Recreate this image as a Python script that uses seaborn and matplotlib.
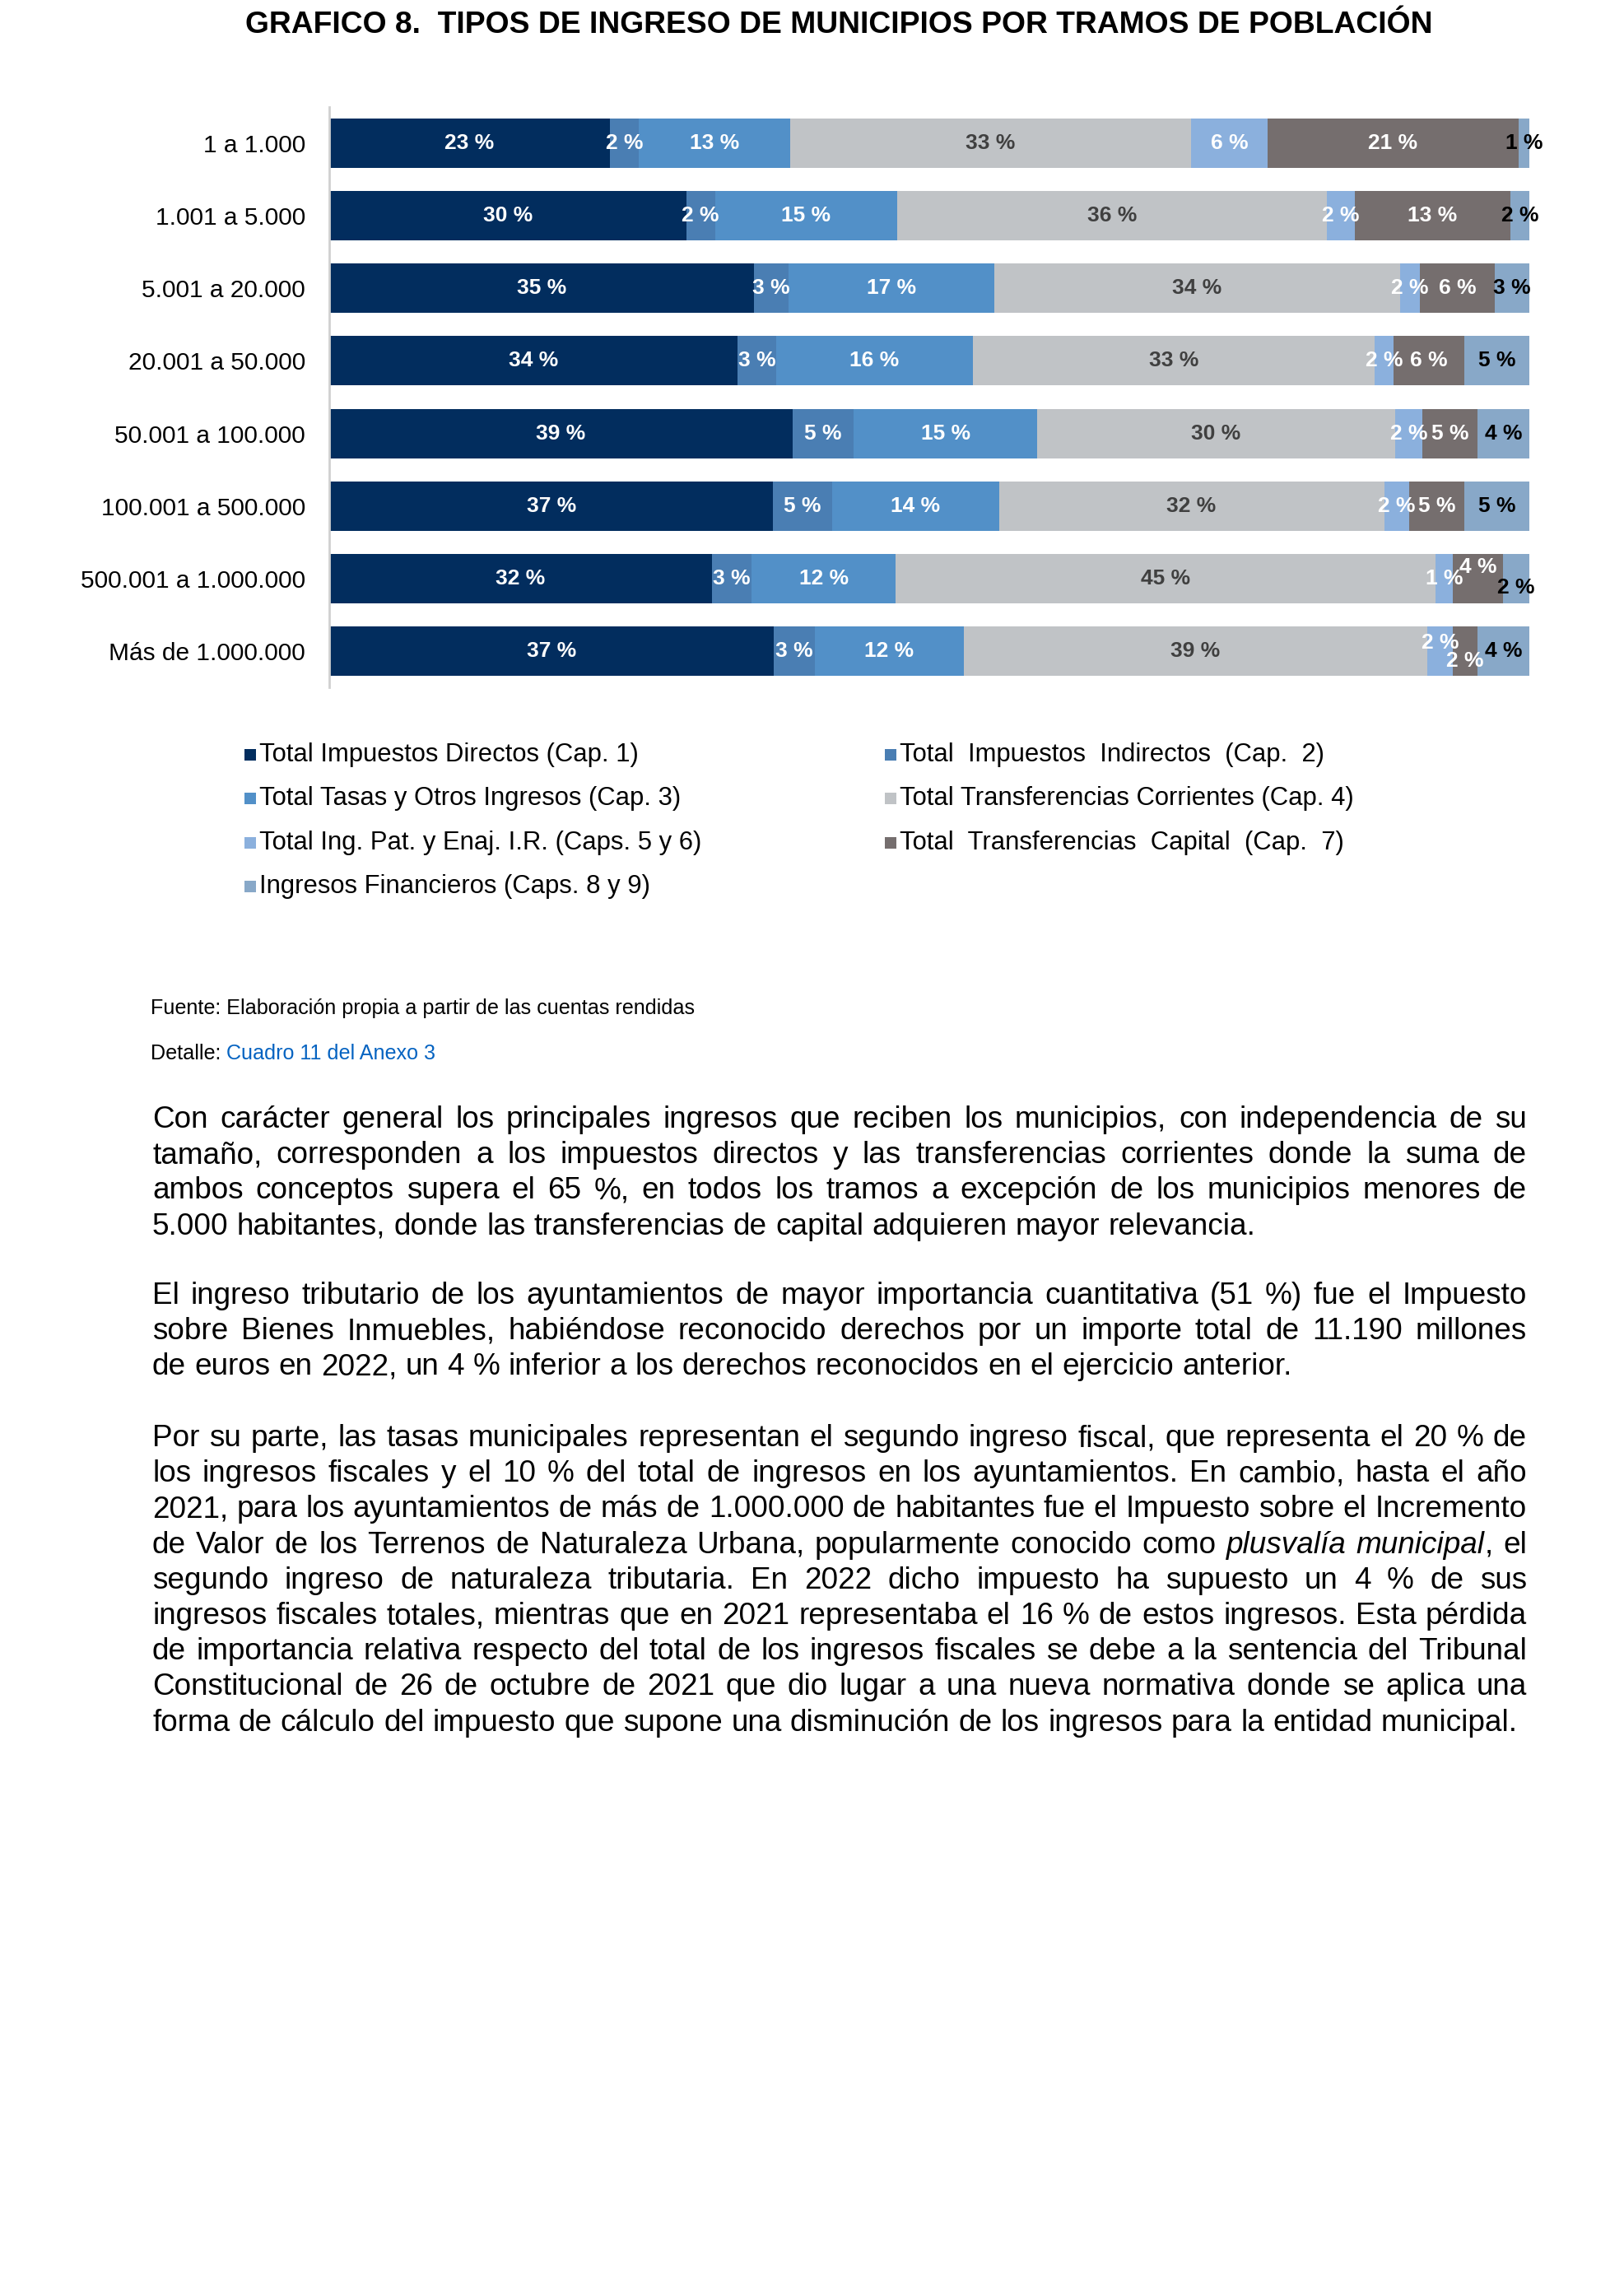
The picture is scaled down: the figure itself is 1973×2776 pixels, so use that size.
import numpy as np
import pandas as pd
import matplotlib
matplotlib.use("Agg")
import matplotlib.pyplot as plt
from matplotlib import font_manager
from matplotlib.patches import Rectangle
import seaborn as sns

# datos del grafico (porcentajes)
categorias = ["1 a 1.000", "1.001 a 5.000", "5.001 a 20.000", "20.001 a 50.000",
              "50.001 a 100.000", "100.001 a 500.000", "500.001 a 1.000.000",
              "Más de 1.000.000"]
directos = [23.4, 29.8, 35.4, 34.0, 38.6, 37.0, 31.9, 37.0]
indirectos = [2.4, 2.4, 2.9, 3.2, 5.1, 4.9, 3.3, 3.4]
tasas = [12.6, 15.2, 17.1, 16.4, 15.3, 13.9, 12.0, 12.4]
corrientes = [33.4, 35.9, 33.8, 33.4, 29.8, 32.1, 45.0, 38.6]
patrimoniales = [6.4, 2.3, 1.7, 1.6, 2.3, 2.1, 1.4, 2.1]
capital = [20.9, 13.0, 6.2, 5.9, 4.6, 4.6, 4.2, 2.1]
financieros = [0.9, 1.6, 2.9, 5.4, 4.3, 5.4, 2.2, 4.3]

series = ["Total Impuestos Directos (Cap. 1)",
          "Total  Impuestos  Indirectos  (Cap.  2)",
          "Total Tasas y Otros Ingresos (Cap. 3)",
          "Total Transferencias Corrientes (Cap. 4)",
          "Total Ing. Pat. y Enaj. I.R. (Caps. 5 y 6)",
          "Total  Transferencias  Capital  (Cap.  7)",
          "Ingresos Financieros (Caps. 8 y 9)"]

colores = ["#022D5E", "#4A7EB3", "#5290C8", "#C0C3C6", "#8BB0DD", "#756E6E", "#88A8C8"]
color_etiqueta = ["white", "white", "white", "#404040", "white", "white", "black"]

parrafos = [
    ["Con carácter general los principales ingresos que reciben los municipios, con independencia de su",
     "tamaño, corresponden a los impuestos directos y las transferencias corrientes donde la suma de",
     "ambos conceptos supera el 65 %, en todos los tramos a excepción de los municipios menores de",
     "5.000 habitantes, donde las transferencias de capital adquieren mayor relevancia."],
    ["El ingreso tributario de los ayuntamientos de mayor importancia cuantitativa (51 %) fue el Impuesto",
     "sobre Bienes Inmuebles, habiéndose reconocido derechos por un importe total de 11.190 millones",
     "de euros en 2022, un 4 % inferior a los derechos reconocidos en el ejercicio anterior."],
    ["Por su parte, las tasas municipales representan el segundo ingreso fiscal, que representa el 20 % de",
     "los ingresos fiscales y el 10 % del total de ingresos en los ayuntamientos. En cambio, hasta el año",
     "2021, para los ayuntamientos de más de 1.000.000 de habitantes fue el Impuesto sobre el Incremento",
     "de Valor de los Terrenos de Naturaleza Urbana, popularmente conocido como *plusvalía municipal*, el",
     "segundo ingreso de naturaleza tributaria. En 2022 dicho impuesto ha supuesto un 4 % de sus",
     "ingresos fiscales totales, mientras que en 2021 representaba el 16 % de estos ingresos. Esta pérdida",
     "de importancia relativa respecto del total de los ingresos fiscales se debe a la sentencia del Tribunal",
     "Constitucional de 26 de octubre de 2021 que dio lugar a una nueva normativa donde se aplica una",
     "forma de cálculo del impuesto que supone una disminución de los ingresos para la entidad municipal."],
]

sns.set_style("white")
plt.rcParams["font.family"] = ["Liberation Sans", "DejaVu Sans"]
plt.rcParams["text.color"] = "black"
nombres = {f.name for f in font_manager.fontManager.ttflist}
estrecha = "Liberation Sans Narrow" if "Liberation Sans Narrow" in nombres else "Liberation Sans"

W, H = 1973, 2776
fig = plt.figure(figsize=(W / 100, H / 100), dpi=100)
renderer = fig.canvas.get_renderer()


def fx(px):
    return px / W


def fy(py):
    return 1 - py / H


# ---- grafico de barras apiladas al 100 %
df = pd.DataFrame({s: v for s, v in zip(series, [directos, indirectos, tasas, corrientes,
                                                  patrimoniales, capital, financieros])},
                  index=categorias)
pct = df.div(df.sum(axis=1), axis=0) * 100
acum = pct.cumsum(axis=1)

ax = fig.add_axes([fx(400), fy(835), fx(1858) - fx(400), (835 - 130) / H])
for j in reversed(range(len(series))):
    sns.barplot(x=acum.iloc[:, j].values, y=categorias, orient="h", color=colores[j],
                saturation=1, width=0.68, linewidth=0, ax=ax)

desplaz = {(6, 5): -0.16, (6, 6): 0.13, (7, 4): -0.11, (7, 5): 0.14}
for i in range(len(categorias)):
    for j in range(len(series)):
        centro = acum.iloc[i, j] - pct.iloc[i, j] / 2
        ax.text(centro, i + desplaz.get((i, j), 0), f"{round(df.iloc[i, j])} %",
                ha="center", va="center", fontsize=19, fontweight="bold",
                color=color_etiqueta[j])

ax.set_xlim(0, 100)
ax.set_ylim(len(categorias) - 0.5, -0.5)
ax.set_xlabel("")
ax.set_ylabel("")
ax.set_xticks([])
ax.tick_params(axis="y", length=0, pad=21, labelsize=21.5, labelcolor="black")
for lado in ["top", "right", "bottom"]:
    ax.spines[lado].set_visible(False)
ax.spines["left"].set_color("#D0D0D0")
ax.spines["left"].set_linewidth(2)

# ---- titulo
fig.text(fx(1019), fy(40), "GRAFICO 8.  TIPOS DE INGRESO DE MUNICIPIOS POR TRAMOS DE POBLACIÓN",
         ha="center", va="baseline", fontsize=26.8, fontweight="bold", color="black")

# ---- leyenda
filas_y = [917, 970, 1024, 1077]
pos_leyenda = [(297, 0), (1075, 0), (297, 1), (1075, 1), (297, 2), (1075, 2), (297, 3)]
for j, (xp, fila) in enumerate(pos_leyenda):
    yc = filas_y[fila]
    fig.patches.append(Rectangle((fx(xp), fy(yc + 7)), 14 / W, 14 / H, transform=fig.transFigure,
                                 facecolor=colores[j], edgecolor="none"))
    fig.text(fx(xp + 18), fy(yc), series[j], ha="left", va="center", fontsize=22.3)

# ---- fuente y detalle
t = fig.text(fx(183), fy(1232), "Fuente: Elaboración propia a partir de las cuentas rendidas",
             ha="left", va="baseline", fontsize=20, family=estrecha)
tam = 20 * 656 / t.get_window_extent(renderer).width
t.set_fontsize(tam)
d = fig.text(fx(183), fy(1287), "Detalle: ", ha="left", va="baseline", fontsize=tam, family=estrecha)
ancho = d.get_window_extent(renderer).width
fig.text(fx(183 + ancho), fy(1287), "Cuadro 11 del Anexo 3", ha="left", va="baseline",
         fontsize=tam, family=estrecha, color="#0563C1")

# ---- texto justificado
TAM_TEXTO = 26.6
X0, X1 = 185, 1855
esp = fig.text(0, 0, "a a", fontsize=TAM_TEXTO)
esp2 = fig.text(0, 0, "aa", fontsize=TAM_TEXTO)
ancho_esp = esp.get_window_extent(renderer).width - esp2.get_window_extent(renderer).width
esp.remove()
esp2.remove()


def poner_linea(linea, base, justificar):
    cursiva = False
    palabras = []
    for token in linea.split(" "):
        trozos = []
        for k, pieza in enumerate(token.split("*")):
            if k > 0:
                cursiva = not cursiva
            if pieza:
                tx = fig.text(0, fy(base), pieza, fontsize=TAM_TEXTO, va="baseline", ha="left",
                              style="italic" if cursiva else "normal")
                trozos.append((tx, tx.get_window_extent(renderer).width))
        palabras.append(trozos)
    total = sum(w for tr in palabras for _, w in tr)
    hueco = (X1 - X0 - total) / (len(palabras) - 1) if justificar else ancho_esp
    x = X0
    for tr in palabras:
        for tx, w in tr:
            tx.set_x(fx(x))
            x += w
        x += hueco


bases = [1370, 1584, 1757]
for par, b0 in zip(parrafos, bases):
    for k, linea in enumerate(par):
        poner_linea(linea, b0 + k * 43.2, k < len(par) - 1)

fig.savefig("out.png", dpi=100)
